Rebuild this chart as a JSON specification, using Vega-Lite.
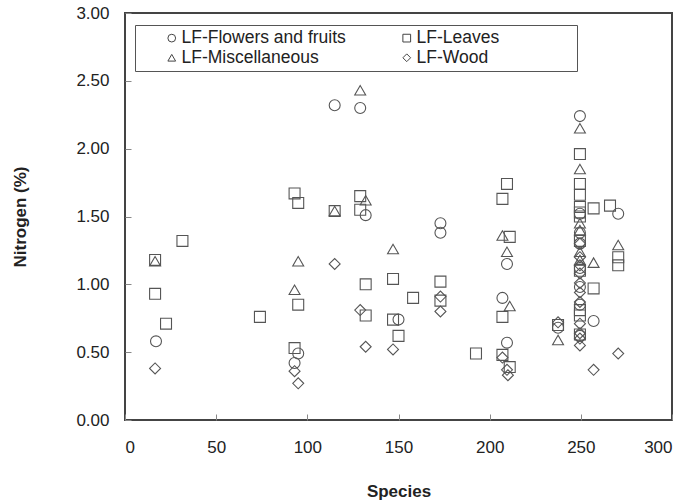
{
  "$schema": "https://vega.github.io/schema/vega-lite/v6.json",
  "autosize": "none",
  "width": 547,
  "height": 407,
  "padding": {"left": 125, "top": 13, "right": 20, "bottom": 84},
  "background": "white",
  "config": {
    "font": "Liberation Sans",
    "view": {"stroke": "#444", "strokeWidth": 2},
    "axis": {"grid": false, "domain": false, "labelFont": "Liberation Sans", "labelFontSize": 17, "labelColor": "#222", "titleFont": "Liberation Sans", "titleFontSize": 17, "titleFontWeight": "bold", "titleColor": "#222", "tickColor": "#888", "tickSize": -6}
  },
  "data": {"values": [
    {"s": 17, "n": 0.58, "t": "LF-Flowers and fruits"},
    {"s": 93, "n": 0.42, "t": "LF-Flowers and fruits"},
    {"s": 95, "n": 0.49, "t": "LF-Flowers and fruits"},
    {"s": 115, "n": 2.32, "t": "LF-Flowers and fruits"},
    {"s": 129, "n": 2.30, "t": "LF-Flowers and fruits"},
    {"s": 132, "n": 1.51, "t": "LF-Flowers and fruits"},
    {"s": 150, "n": 0.74, "t": "LF-Flowers and fruits"},
    {"s": 173, "n": 1.45, "t": "LF-Flowers and fruits"},
    {"s": 173, "n": 1.38, "t": "LF-Flowers and fruits"},
    {"s": 207, "n": 0.90, "t": "LF-Flowers and fruits"},
    {"s": 209.5, "n": 1.15, "t": "LF-Flowers and fruits"},
    {"s": 209.5, "n": 0.57, "t": "LF-Flowers and fruits"},
    {"s": 237.5, "n": 0.68, "t": "LF-Flowers and fruits"},
    {"s": 249.5, "n": 2.24, "t": "LF-Flowers and fruits"},
    {"s": 249.5, "n": 1.52, "t": "LF-Flowers and fruits"},
    {"s": 249.5, "n": 1.38, "t": "LF-Flowers and fruits"},
    {"s": 249.5, "n": 1.30, "t": "LF-Flowers and fruits"},
    {"s": 249.5, "n": 1.12, "t": "LF-Flowers and fruits"},
    {"s": 249.5, "n": 0.98, "t": "LF-Flowers and fruits"},
    {"s": 249.5, "n": 0.85, "t": "LF-Flowers and fruits"},
    {"s": 249.5, "n": 0.62, "t": "LF-Flowers and fruits"},
    {"s": 257, "n": 0.73, "t": "LF-Flowers and fruits"},
    {"s": 270.5, "n": 1.52, "t": "LF-Flowers and fruits"},
    {"s": 16.5, "n": 1.18, "t": "LF-Leaves"},
    {"s": 16.5, "n": 0.93, "t": "LF-Leaves"},
    {"s": 22.5, "n": 0.71, "t": "LF-Leaves"},
    {"s": 31.5, "n": 1.32, "t": "LF-Leaves"},
    {"s": 74, "n": 0.76, "t": "LF-Leaves"},
    {"s": 93, "n": 1.67, "t": "LF-Leaves"},
    {"s": 93, "n": 0.53, "t": "LF-Leaves"},
    {"s": 95, "n": 1.60, "t": "LF-Leaves"},
    {"s": 95, "n": 0.85, "t": "LF-Leaves"},
    {"s": 115, "n": 1.54, "t": "LF-Leaves"},
    {"s": 129, "n": 1.65, "t": "LF-Leaves"},
    {"s": 129, "n": 1.55, "t": "LF-Leaves"},
    {"s": 132, "n": 1.00, "t": "LF-Leaves"},
    {"s": 132, "n": 0.77, "t": "LF-Leaves"},
    {"s": 147, "n": 1.04, "t": "LF-Leaves"},
    {"s": 147, "n": 0.74, "t": "LF-Leaves"},
    {"s": 150, "n": 0.62, "t": "LF-Leaves"},
    {"s": 158, "n": 0.90, "t": "LF-Leaves"},
    {"s": 173, "n": 1.02, "t": "LF-Leaves"},
    {"s": 173, "n": 0.88, "t": "LF-Leaves"},
    {"s": 192.5, "n": 0.49, "t": "LF-Leaves"},
    {"s": 207, "n": 1.63, "t": "LF-Leaves"},
    {"s": 207, "n": 0.76, "t": "LF-Leaves"},
    {"s": 207, "n": 0.48, "t": "LF-Leaves"},
    {"s": 209.5, "n": 1.74, "t": "LF-Leaves"},
    {"s": 211, "n": 1.35, "t": "LF-Leaves"},
    {"s": 211, "n": 0.39, "t": "LF-Leaves"},
    {"s": 237.5, "n": 0.70, "t": "LF-Leaves"},
    {"s": 249.5, "n": 1.96, "t": "LF-Leaves"},
    {"s": 249.5, "n": 1.74, "t": "LF-Leaves"},
    {"s": 249.5, "n": 1.66, "t": "LF-Leaves"},
    {"s": 249.5, "n": 1.57, "t": "LF-Leaves"},
    {"s": 249.5, "n": 1.53, "t": "LF-Leaves"},
    {"s": 249.5, "n": 1.50, "t": "LF-Leaves"},
    {"s": 249.5, "n": 1.32, "t": "LF-Leaves"},
    {"s": 249.5, "n": 1.10, "t": "LF-Leaves"},
    {"s": 249.5, "n": 0.81, "t": "LF-Leaves"},
    {"s": 249.5, "n": 0.77, "t": "LF-Leaves"},
    {"s": 249.5, "n": 0.63, "t": "LF-Leaves"},
    {"s": 257, "n": 1.56, "t": "LF-Leaves"},
    {"s": 257, "n": 0.97, "t": "LF-Leaves"},
    {"s": 266, "n": 1.58, "t": "LF-Leaves"},
    {"s": 270.5, "n": 1.20, "t": "LF-Leaves"},
    {"s": 270.5, "n": 1.14, "t": "LF-Leaves"},
    {"s": 16.5, "n": 1.17, "t": "LF-Miscellaneous"},
    {"s": 93, "n": 0.96, "t": "LF-Miscellaneous"},
    {"s": 95, "n": 1.17, "t": "LF-Miscellaneous"},
    {"s": 115, "n": 1.54, "t": "LF-Miscellaneous"},
    {"s": 129, "n": 2.43, "t": "LF-Miscellaneous"},
    {"s": 132, "n": 1.62, "t": "LF-Miscellaneous"},
    {"s": 147, "n": 1.26, "t": "LF-Miscellaneous"},
    {"s": 207, "n": 1.36, "t": "LF-Miscellaneous"},
    {"s": 209.5, "n": 1.24, "t": "LF-Miscellaneous"},
    {"s": 211, "n": 0.84, "t": "LF-Miscellaneous"},
    {"s": 237.5, "n": 0.59, "t": "LF-Miscellaneous"},
    {"s": 249.5, "n": 2.15, "t": "LF-Miscellaneous"},
    {"s": 249.5, "n": 1.85, "t": "LF-Miscellaneous"},
    {"s": 249.5, "n": 1.45, "t": "LF-Miscellaneous"},
    {"s": 249.5, "n": 1.40, "t": "LF-Miscellaneous"},
    {"s": 249.5, "n": 1.24, "t": "LF-Miscellaneous"},
    {"s": 249.5, "n": 1.18, "t": "LF-Miscellaneous"},
    {"s": 257, "n": 1.16, "t": "LF-Miscellaneous"},
    {"s": 270.5, "n": 1.29, "t": "LF-Miscellaneous"},
    {"s": 16.5, "n": 0.38, "t": "LF-Wood"},
    {"s": 93, "n": 0.36, "t": "LF-Wood"},
    {"s": 95, "n": 0.27, "t": "LF-Wood"},
    {"s": 115, "n": 1.15, "t": "LF-Wood"},
    {"s": 129, "n": 0.81, "t": "LF-Wood"},
    {"s": 132, "n": 0.54, "t": "LF-Wood"},
    {"s": 147, "n": 0.52, "t": "LF-Wood"},
    {"s": 173, "n": 0.91, "t": "LF-Wood"},
    {"s": 173, "n": 0.80, "t": "LF-Wood"},
    {"s": 207, "n": 0.46, "t": "LF-Wood"},
    {"s": 209.5, "n": 0.37, "t": "LF-Wood"},
    {"s": 210, "n": 0.33, "t": "LF-Wood"},
    {"s": 237.5, "n": 0.72, "t": "LF-Wood"},
    {"s": 249.5, "n": 1.30, "t": "LF-Wood"},
    {"s": 249.5, "n": 1.20, "t": "LF-Wood"},
    {"s": 249.5, "n": 1.14, "t": "LF-Wood"},
    {"s": 249.5, "n": 1.08, "t": "LF-Wood"},
    {"s": 249.5, "n": 1.01, "t": "LF-Wood"},
    {"s": 249.5, "n": 0.94, "t": "LF-Wood"},
    {"s": 249.5, "n": 0.87, "t": "LF-Wood"},
    {"s": 249.5, "n": 0.71, "t": "LF-Wood"},
    {"s": 249.5, "n": 0.64, "t": "LF-Wood"},
    {"s": 249.5, "n": 0.60, "t": "LF-Wood"},
    {"s": 249.5, "n": 0.55, "t": "LF-Wood"},
    {"s": 257, "n": 0.37, "t": "LF-Wood"},
    {"s": 270.5, "n": 0.49, "t": "LF-Wood"}
  ]},
  "mark": {"type": "point", "filled": false, "color": "#555", "strokeWidth": 1.1, "size": 120, "opacity": 1},
  "encoding": {
    "x": {"field": "s", "type": "quantitative", "title": "Species",
      "scale": {"domain": [0, 300], "nice": false, "zero": false},
      "axis": {"values": [0, 50, 100, 150, 200, 250, 300], "labelPadding": 25, "titlePadding": 28}},
    "y": {"field": "n", "type": "quantitative", "title": "Nitrogen (%)",
      "scale": {"domain": [0, 3], "nice": false},
      "axis": {"values": [0, 0.5, 1, 1.5, 2, 2.5, 3], "format": ".2f", "labelPadding": 22, "titlePadding": 46}},
    "shape": {"field": "t", "type": "nominal",
      "scale": {"domain": ["LF-Flowers and fruits", "LF-Miscellaneous", "LF-Leaves", "LF-Wood"], "range": ["circle", "triangle-up", "square", "diamond"]},
      "legend": {"title": "\u00a0", "titleOrient": "right", "titlePadding": 74, "orient": "none", "legendX": 10, "legendY": 12, "columns": 2, "columnPadding": 28, "rowPadding": 1, "strokeColor": "#555", "padding": 4, "labelFont": "Liberation Sans", "labelFontSize": 17.5, "labelColor": "#222", "symbolSize": 60, "symbolStrokeColor": "#444", "symbolStrokeWidth": 1, "symbolOffset": 24, "labelOffset": 1, "labelLimit": 300}}
  }
}
